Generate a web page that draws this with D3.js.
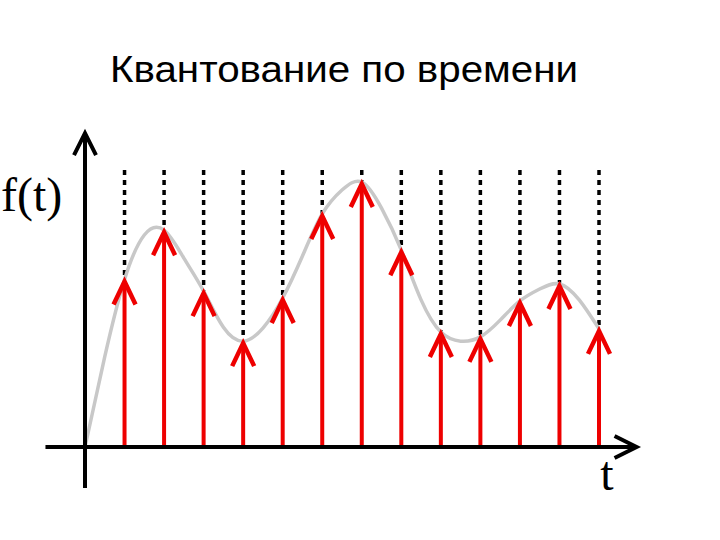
<!DOCTYPE html>
<html>
<head>
<meta charset="utf-8">
<script src="https://cdn.jsdelivr.net/npm/d3@7"></script>
<style>
    html, body { margin: 0; padding: 0; background: #fff; }
    svg { display: block; }
</style>
</head>
<body>
<div id="chart"></div>
<script>
var sampleT = [1, 2, 3, 4, 5, 6, 7, 8, 9, 10, 11, 12, 13];
var sampleValues = [63, 81.5, 58.6, 39.8, 56, 87.6, 99.6, 74, 43.2, 41.4, 54.9, 61.3, 44.4];

// the continuous signal, traced at half steps
var curveT = [0, 0.5, 1, 1.5, 2, 2.5, 3, 3.5, 4, 4.5, 5, 5.5, 6, 6.5, 7,
    7.5, 8, 8.5, 9, 9.5, 10, 10.5, 11, 11.5, 12, 12.5, 13];
var curveValues = [0, 34, 63, 79.7, 81.5, 71, 58.6, 45, 39.8, 44.7, 56, 71.8, 87.6, 96.6, 99.6,
    89.8, 74, 55.3, 43.2, 39.8, 41.4, 47.7, 54.9, 59.4, 61.3, 55.3, 44.4];

var titleText = "Квантование по времени";
var yLabel = "f(t)";
var xLabel = "t";

var chart = (function() {
    "use strict";
    var width = 720,
        height = 540;

    var x = d3.scaleLinear().domain([0, 13]).range([85, 599]);
    var y = d3.scaleLinear().domain([0, 100]).range([447, 181]);

    var svg = d3.select("#chart")
        .append("svg")
        .attr("width", width)
        .attr("height", height);

    svg.append("text")
        .attr("x", 344)
        .attr("y", 82)
        .attr("text-anchor", "middle")
        .attr("textLength", 468)
        .attr("lengthAdjust", "spacingAndGlyphs")
        .style("font-family", "'Liberation Sans', Arial, sans-serif")
        .style("font-size", "37px")
        .text(titleText);

    // dotted guides above every sample
    svg.selectAll(".guide")
        .data(sampleT)
        .enter()
        .append("line")
        .attr("class", "guide")
        .attr("x1", function(d) { return x(d); })
        .attr("x2", function(d) { return x(d); })
        .attr("y1", 170)
        .attr("y2", function(d, i) { return y(sampleValues[i]); })
        .attr("stroke", "#000")
        .attr("stroke-width", 3.5)
        .attr("stroke-dasharray", "5,5");

    var line = d3.line()
        .x(function(d) { return x(d[0]); })
        .y(function(d) { return y(d[1]); })
        .curve(d3.curveNatural);

    svg.append("path")
        .datum(d3.zip(curveT, curveValues))
        .attr("d", line)
        .attr("fill", "none")
        .attr("stroke", "#c8c8c8")
        .attr("stroke-width", 3.5);

    // red sample arrows
    var red = "#ee0000";
    var arrows = svg.selectAll(".sample")
        .data(sampleT)
        .enter()
        .append("g")
        .attr("class", "sample");
    arrows.append("line")
        .attr("x1", function(d) { return x(d); })
        .attr("x2", function(d) { return x(d); })
        .attr("y1", y(0))
        .attr("y2", function(d, i) { return y(sampleValues[i]) + 2; })
        .attr("stroke", red)
        .attr("stroke-width", 4);
    arrows.append("path")
        .attr("d", function(d, i) {
            var cx = x(d), cy = y(sampleValues[i]) + 2;
            return "M" + (cx - 11) + "," + (cy + 23) + "L" + cx + "," + cy + "L" + (cx + 11) + "," + (cy + 23);
        })
        .attr("fill", "none")
        .attr("stroke", red)
        .attr("stroke-width", 4.5)
        .attr("stroke-linejoin", "miter");

    // axes with open arrow heads
    var axisColor = "#000";
    svg.append("line")
        .attr("x1", x(-1)).attr("x2", x(13.95))
        .attr("y1", y(0)).attr("y2", y(0))
        .attr("stroke", axisColor).attr("stroke-width", 4);
    svg.append("path")
        .attr("d", "M" + (x(13.95) - 22) + "," + (y(0) - 11) + "L" + x(13.95) + "," + y(0) + "L" + (x(13.95) - 22) + "," + (y(0) + 11))
        .attr("fill", "none").attr("stroke", axisColor).attr("stroke-width", 4);

    svg.append("line")
        .attr("x1", x(0)).attr("x2", x(0))
        .attr("y1", y(-15.4)).attr("y2", y(118))
        .attr("stroke", axisColor).attr("stroke-width", 4);
    svg.append("path")
        .attr("d", "M" + (x(0) - 11) + "," + (y(118) + 22) + "L" + x(0) + "," + y(118) + "L" + (x(0) + 11) + "," + (y(118) + 22))
        .attr("fill", "none").attr("stroke", axisColor).attr("stroke-width", 4);

    svg.append("text")
        .attr("x", 1)
        .attr("y", 211)
        .style("font-family", "'Liberation Serif', 'Times New Roman', serif")
        .style("font-size", "48px")
        .text(yLabel);

    svg.append("text")
        .attr("x", 607)
        .attr("y", 490)
        .attr("text-anchor", "middle")
        .style("font-family", "'Liberation Serif', 'Times New Roman', serif")
        .style("font-size", "48px")
        .text(xLabel);

    return {};
})();
</script>
</body>
</html>
